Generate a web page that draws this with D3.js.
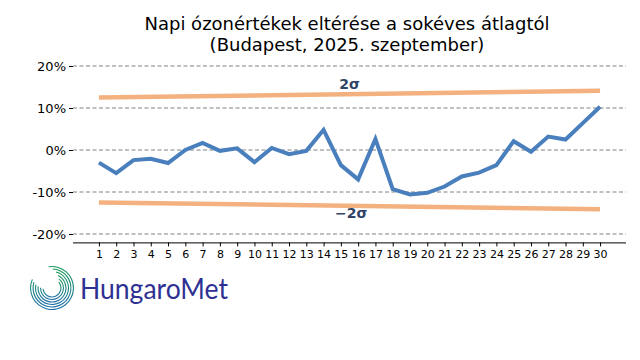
<!DOCTYPE html>
<html><head><meta charset="utf-8">
<script src="https://cdn.jsdelivr.net/npm/d3@7"></script>
<style>body{margin:0;background:#fff}svg{display:block}</style>
</head><body>
<svg id="c" width="640" height="360"></svg>
<script>
const days = d3.range(1, 31);
const anomaly = [-3.0,-5.5,-2.4,-2.1,-3.1,0.0,1.7,-0.2,0.4,-2.9,0.5,-1.0,-0.2,4.8,-3.6,-7.0,2.6,-9.3,-10.6,-10.2,-8.7,-6.3,-5.4,-3.6,2.1,-0.4,3.2,2.5,6.4,10.3];
const sigmaDays = [1, 30];
const sigmaUpper = [12.5, 14.1];
const sigmaLower = [-12.5, -14.1];
const yTicks = [-20, -10, 0, 10, 20];
const titleLines = ["Napi ózonértékek eltérése a sokéves átlagtól", "(Budapest, 2025. szeptember)"];

const svg = d3.select("#c");
const x = d3.scaleLinear().domain([-0.5, 31.5]).range([73, 626]);
const y = d3.scaleLinear().domain([-22, 22]).range([242.4, 57.6]);

// title
svg.append("text").attr("x", 347).attr("y", 0).attr("text-anchor", "middle")
  .attr("font-family", "DejaVu Sans").attr("font-size", 18).attr("fill", "#000")
  .selectAll("tspan").data(titleLines).join("tspan")
  .attr("x", 347).attr("y", (d, i) => 29.5 + i * 21).text(d => d);

// grid
svg.append("g").selectAll("line").data(yTicks).join("line")
  .attr("x1", 73).attr("x2", 626).attr("y1", d => y(d)).attr("y2", d => y(d))
  .attr("stroke", "#808080").attr("stroke-width", 1).attr("stroke-dasharray", "4,2.5");

// y axis
const ya = svg.append("g").attr("transform", "translate(73,0)")
  .call(d3.axisLeft(y).tickValues(yTicks).tickFormat(d => d + "%").tickSize(4).tickPadding(3));
ya.select(".domain").remove();
ya.selectAll("text").attr("font-family", "DejaVu Sans").attr("font-size", 13).attr("fill", "#000");
ya.selectAll("line").attr("stroke", "#000");

// x axis
const xa = svg.append("g").attr("transform", "translate(0,242.4)")
  .call(d3.axisBottom(x).tickValues(days).tickFormat(d3.format("d")).tickSize(4).tickSizeOuter(0).tickPadding(4));
xa.select(".domain").attr("d", "M73,0.5H626").attr("stroke", "#000");
xa.selectAll("text").attr("font-family", "DejaVu Sans").attr("font-size", 11).attr("fill", "#000");
xa.selectAll(".tick line").attr("stroke", "#000");

// sigma lines
const sl = d3.line().x((d, i) => x(sigmaDays[i])).y(d => y(d));
[sigmaUpper, sigmaLower].forEach(arr => {
  svg.append("path").attr("d", sl(arr)).attr("fill", "none")
    .attr("stroke", "#f3b17f").attr("stroke-width", 4.5);
});
svg.append("text").attr("x", x(15.5)).attr("y", y(14.5)).attr("text-anchor", "middle")
  .attr("font-family", "DejaVu Sans").attr("font-weight", "bold").attr("font-size", 14)
  .attr("fill", "#2f4466").text("2σ");
svg.append("text").attr("x", x(15.6)).attr("y", y(-16.2)).attr("text-anchor", "middle")
  .attr("font-family", "DejaVu Sans").attr("font-weight", "bold").attr("font-size", 14)
  .attr("fill", "#2f4466").text("−2σ");

// anomaly line
const ln = d3.line().x((d, i) => x(days[i])).y(d => y(d));
svg.append("path").attr("d", ln(anomaly)).attr("fill", "none")
  .attr("stroke", "#4a7fbd").attr("stroke-width", 4).attr("stroke-linejoin", "miter");

// logo
const lg = svg.append("g").attr("transform", "translate(52,288)");
const grad = svg.append("defs").append("linearGradient").attr("id", "lgG")
  .attr("x1", "0").attr("y1", "0").attr("x2", "0").attr("y2", "1");
grad.append("stop").attr("offset", "0").attr("stop-color", "#1a9a5a");
grad.append("stop").attr("offset", "1").attr("stop-color", "#1f6fa8");
[22, 19.5, 17, 14.5, 12, 9.5].forEach((r, i) => {
  const a0 = -Math.PI * 0.05 + i * 0.2;
  lg.append("path").attr("d", d3.arc().innerRadius(r - 1.1).outerRadius(r)({startAngle: a0, endAngle: a0 + (Math.PI * 2 - 1.0 - i * 0.3)}))
    .attr("fill", "url(#lgG)");
});
svg.append("text").attr("x", 80).attr("y", 299).attr("font-family", "Lato").attr("font-weight", 400)
  .attr("font-size", 28).attr("fill", "#2e3192").attr("textLength", 148).attr("lengthAdjust", "spacingAndGlyphs")
  .text("HungaroMet");
</script>
</body></html>
